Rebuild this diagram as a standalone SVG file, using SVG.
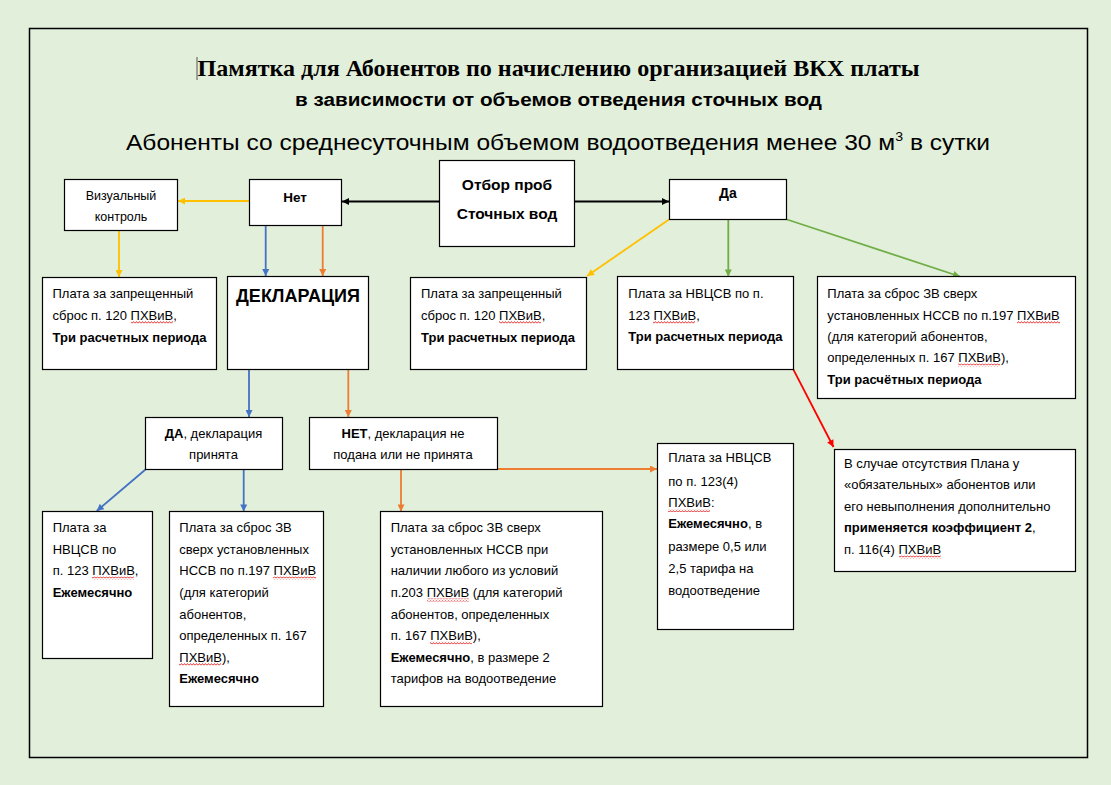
<svg xmlns="http://www.w3.org/2000/svg" width="1111" height="785" viewBox="0 0 1111 785">
<defs>
<style>
.box{fill:#fff;stroke:#000;stroke-width:1.2}
.t{font-family:"Liberation Sans",Arial,sans-serif;font-size:13px;fill:#000}
.b{font-weight:bold}
.c{text-anchor:middle}
.wv{fill:url(#wavy)}
.ln{fill:none;stroke-width:1.8}
</style>
<pattern id="wavy" patternUnits="userSpaceOnUse" x="0" y="0" width="3" height="3"><path d="M0,2.4L1.5,0.6L3,2.4" fill="none" stroke="#e00000" stroke-width="0.8"/></pattern>
<marker id="aK" viewBox="0 0 10 10" refX="10" refY="5" markerWidth="8" markerHeight="7" markerUnits="userSpaceOnUse" orient="auto"><path d="M0,0L10,5L0,10z" fill="#000"/></marker>
<marker id="aY" viewBox="0 0 10 10" refX="10" refY="5" markerWidth="8" markerHeight="7" markerUnits="userSpaceOnUse" orient="auto"><path d="M0,0L10,5L0,10z" fill="#FFC000"/></marker>
<marker id="aB" viewBox="0 0 10 10" refX="10" refY="5" markerWidth="8" markerHeight="7" markerUnits="userSpaceOnUse" orient="auto"><path d="M0,0L10,5L0,10z" fill="#4472C4"/></marker>
<marker id="aO" viewBox="0 0 10 10" refX="10" refY="5" markerWidth="8" markerHeight="7" markerUnits="userSpaceOnUse" orient="auto"><path d="M0,0L10,5L0,10z" fill="#ED7D31"/></marker>
<marker id="aG" viewBox="0 0 10 10" refX="10" refY="5" markerWidth="8" markerHeight="7" markerUnits="userSpaceOnUse" orient="auto"><path d="M0,0L10,5L0,10z" fill="#70AD47"/></marker>
<marker id="aR" viewBox="0 0 10 10" refX="10" refY="5" markerWidth="8" markerHeight="7" markerUnits="userSpaceOnUse" orient="auto"><path d="M0,0L10,5L0,10z" fill="#FF0000"/></marker>
</defs>
<rect x="0" y="0" width="1111" height="785" fill="#E2EFDA"/>
<rect x="29.5" y="28.5" width="1058" height="729" fill="none" stroke="#000" stroke-width="1.5"/>

<g id="header">
<line x1="197" y1="57" x2="197" y2="80" stroke="#555" stroke-width="1"/>
<text x="558.5" y="76" class="c" font-family="'Liberation Serif','Times New Roman',serif" font-weight="bold" font-size="24" textLength="722" lengthAdjust="spacingAndGlyphs">Памятка для Абонентов по начислению организацией ВКХ платы</text>
<text x="558.5" y="106" class="t b c" style="font-size:18px" textLength="527" lengthAdjust="spacingAndGlyphs">в зависимости от объемов отведения сточных вод</text>
<text x="558" y="150" class="t c" style="font-size:22.5px" textLength="864" lengthAdjust="spacingAndGlyphs">Абоненты со среднесуточным объемом водоотведения менее 30 м<tspan dy="-9" style="font-size:13px">3</tspan><tspan dy="9"> в сутки</tspan></text>
</g>

<g id="connectors">
<line class="ln" x1="440" y1="201.5" x2="342" y2="201.5" stroke="#000" marker-end="url(#aK)"/>
<line class="ln" x1="575" y1="201.5" x2="669" y2="201.5" stroke="#000" marker-end="url(#aK)"/>
<line class="ln" x1="249" y1="201" x2="178" y2="201" stroke="#FFC000" marker-end="url(#aY)"/>
<line class="ln" x1="119" y1="230.5" x2="119" y2="277" stroke="#FFC000" marker-end="url(#aY)"/>
<line class="ln" x1="265.7" y1="225.5" x2="265.7" y2="276" stroke="#4472C4" marker-end="url(#aB)"/>
<line class="ln" x1="322.7" y1="225.5" x2="322.7" y2="276" stroke="#ED7D31" marker-end="url(#aO)"/>
<line class="ln" x1="669" y1="219.5" x2="587" y2="276" stroke="#FFC000" marker-end="url(#aY)"/>
<line class="ln" x1="728.3" y1="219.5" x2="728.3" y2="276.5" stroke="#70AD47" marker-end="url(#aG)"/>
<line class="ln" x1="787" y1="219.5" x2="960" y2="276.5" stroke="#70AD47" marker-end="url(#aG)"/>
<line class="ln" x1="793.3" y1="369.3" x2="833.5" y2="447" stroke="#FF0000" marker-end="url(#aR)"/>
<line class="ln" x1="249" y1="369.5" x2="249" y2="417" stroke="#4472C4" marker-end="url(#aB)"/>
<line class="ln" x1="348.3" y1="369.5" x2="348.3" y2="417" stroke="#ED7D31" marker-end="url(#aO)"/>
<line class="ln" x1="145.5" y1="469.5" x2="96.7" y2="511" stroke="#4472C4" marker-end="url(#aB)"/>
<line class="ln" x1="243.7" y1="469.5" x2="243.7" y2="511.5" stroke="#4472C4" marker-end="url(#aB)"/>
<line class="ln" x1="401" y1="469.5" x2="401" y2="511.5" stroke="#ED7D31" marker-end="url(#aO)"/>
<line class="ln" x1="497.5" y1="469" x2="657" y2="469" stroke="#ED7D31" marker-end="url(#aO)"/>
</g>

<g id="otbor">
<rect class="box" x="439.5" y="160.5" width="135" height="86"/>
<text class="t b c" x="507" y="189.5" style="font-size:15.5px">Отбор проб</text>
<text class="t b c" x="507" y="219.3" style="font-size:15.5px">Сточных вод</text>
</g>

<g id="net">
<rect class="box" x="249.5" y="179.5" width="92" height="46"/>
<text class="t b c" x="295" y="201.5" style="font-size:13.5px">Нет</text>
</g>

<g id="da">
<rect class="box" x="669.5" y="179.5" width="117" height="40"/>
<text class="t b c" x="728" y="198" style="font-size:14px">Да</text>
</g>

<g id="vizual">
<rect class="box" x="64.5" y="179.5" width="113" height="51"/>
<text class="t c" x="121" y="200" style="font-size:12.5px">Визуальный</text>
<text class="t c" x="121" y="221" style="font-size:12.5px">контроль</text>
</g>

<g id="plata-zapr-1">
<rect class="box" x="42.5" y="277.5" width="174" height="92"/>
<text class="t" x="52.5" y="298">Плата за запрещенный</text>
<text class="t" x="52.5" y="319.5">сброс п. 120 ПХВиВ,</text>
<rect class="wv" x="131" y="321" width="42" height="3"/>
<text class="t b" x="52.5" y="341.5">Три расчетных периода</text>
</g>

<g id="deklaracia">
<rect class="box" x="227.5" y="276.5" width="141" height="93"/>
<text class="t b c" x="298" y="301.7" style="font-size:18px">ДЕКЛАРАЦИЯ</text>
</g>

<g id="plata-zapr-2">
<rect class="box" x="410.5" y="277.5" width="176" height="92"/>
<text class="t" x="421" y="298">Плата за запрещенный</text>
<text class="t" x="421" y="319.5">сброс п. 120 ПХВиВ,</text>
<rect class="wv" x="499" y="321" width="42" height="3"/>
<text class="t b" x="421" y="341.5">Три расчетных периода</text>
</g>

<g id="plata-nvcsv-123">
<rect class="box" x="617.5" y="276.5" width="176" height="93"/>
<text class="t" x="628.3" y="298">Плата за НВЦСВ по п.</text>
<text class="t" x="628.3" y="319.5">123 ПХВиВ,</text>
<rect class="wv" x="653" y="321" width="42" height="3"/>
<text class="t b" x="628.3" y="341">Три расчетных периода</text>
</g>

<g id="plata-sbros-197-top">
<rect class="box" x="817.5" y="276.5" width="258" height="122"/>
<text class="t" x="827.3" y="298">Плата за сброс ЗВ сверх</text>
<text class="t" x="827.3" y="319.5">установленных НССВ по п.197 ПХВиВ</text>
<rect class="wv" x="1017" y="321" width="43" height="3"/>
<text class="t" x="827.3" y="341">(для категорий абонентов,</text>
<text class="t" x="827.3" y="362">определенных п. 167 ПХВиВ),</text>
<rect class="wv" x="958" y="363.5" width="42" height="3"/>
<text class="t b" x="827.3" y="383.5">Три расчётных периода</text>
</g>

<g id="da-deklaracia">
<rect class="box" x="145.5" y="417.5" width="137" height="52"/>
<text class="t c" x="213.5" y="438.3"><tspan class="b">ДА</tspan>, декларация</text>
<text class="t c" x="213.5" y="459">принята</text>
</g>

<g id="net-deklaracia">
<rect class="box" x="309.5" y="417.5" width="188" height="52"/>
<text class="t c" x="403" y="438.3"><tspan class="b">НЕТ</tspan>, декларация не</text>
<text class="t c" x="403" y="459">подана или не принята</text>
</g>

<g id="plata-nvcsv-ezh">
<rect class="box" x="42.5" y="511.5" width="110" height="147"/>
<text class="t" x="52.7" y="532">Плата за</text>
<text class="t" x="52.7" y="554">НВЦСВ по</text>
<text class="t" x="52.7" y="575">п. 123 ПХВиВ,</text>
<rect class="wv" x="92" y="576.5" width="42" height="3"/>
<text class="t b" x="52.7" y="597">Ежемесячно</text>
</g>

<g id="plata-sbros-197-bottom">
<rect class="box" x="169.5" y="511.5" width="154" height="195"/>
<text class="t" x="179.3" y="532">Плата за сброс ЗВ</text>
<text class="t" x="179.3" y="554">сверх установленных</text>
<text class="t" x="179.3" y="575">НССВ по п.197 ПХВиВ</text>
<rect class="wv" x="273" y="576.5" width="43" height="3"/>
<text class="t" x="179.3" y="597">(для категорий</text>
<text class="t" x="179.3" y="619">абонентов,</text>
<text class="t" x="179.3" y="640">определенных п. 167</text>
<text class="t" x="179.3" y="661.5">ПХВиВ),</text>
<rect class="wv" x="179" y="663" width="42" height="3"/>
<text class="t b" x="179.3" y="682.5">Ежемесячно</text>
</g>

<g id="plata-sbros-203">
<rect class="box" x="380.5" y="511.5" width="222" height="195"/>
<text class="t" x="390.7" y="532">Плата за сброс ЗВ сверх</text>
<text class="t" x="390.7" y="554">установленных НССВ при</text>
<text class="t" x="390.7" y="575">наличии любого из условий</text>
<text class="t" x="390.7" y="597">п.203 ПХВиВ (для категорий</text>
<rect class="wv" x="427" y="598.5" width="42" height="3"/>
<text class="t" x="390.7" y="619">абонентов, определенных</text>
<text class="t" x="390.7" y="640">п. 167 ПХВиВ),</text>
<rect class="wv" x="430" y="641.5" width="42" height="3"/>
<text class="t" x="390.7" y="661.5"><tspan class="b">Ежемесячно</tspan>, в размере 2</text>
<text class="t" x="390.7" y="682.5">тарифов на водоотведение</text>
</g>

<g id="plata-nvcsv-123-4">
<rect class="box" x="657.5" y="443.5" width="136" height="186"/>
<text class="t" x="668.3" y="461.7">Плата за НВЦСВ</text>
<text class="t" x="668.3" y="486">по п. 123(4)</text>
<text class="t" x="668.3" y="507.3">ПХВиВ:</text>
<rect class="wv" x="668" y="509" width="42" height="3"/>
<text class="t" x="668.3" y="528.3"><tspan class="b">Ежемесячно</tspan>, в</text>
<text class="t" x="668.3" y="550.7">размере 0,5 или</text>
<text class="t" x="668.3" y="573.3">2,5 тарифа на</text>
<text class="t" x="668.3" y="595">водоотведение</text>
</g>

<g id="koefficient">
<rect class="box" x="834.5" y="449.5" width="241" height="122"/>
<text class="t" x="844" y="468.3">В случае отсутствия Плана у</text>
<text class="t" x="844" y="489.3">«обязательных» абонентов или</text>
<text class="t" x="844" y="510.7">его невыполнения дополнительно</text>
<text class="t b" x="844" y="532.3">применяется коэффициент 2<tspan style="font-weight:normal">,</tspan></text>
<text class="t" x="844" y="554">п. 116(4) ПХВиВ</text>
<rect class="wv" x="899" y="555.5" width="42" height="3"/>
</g>
</svg>
